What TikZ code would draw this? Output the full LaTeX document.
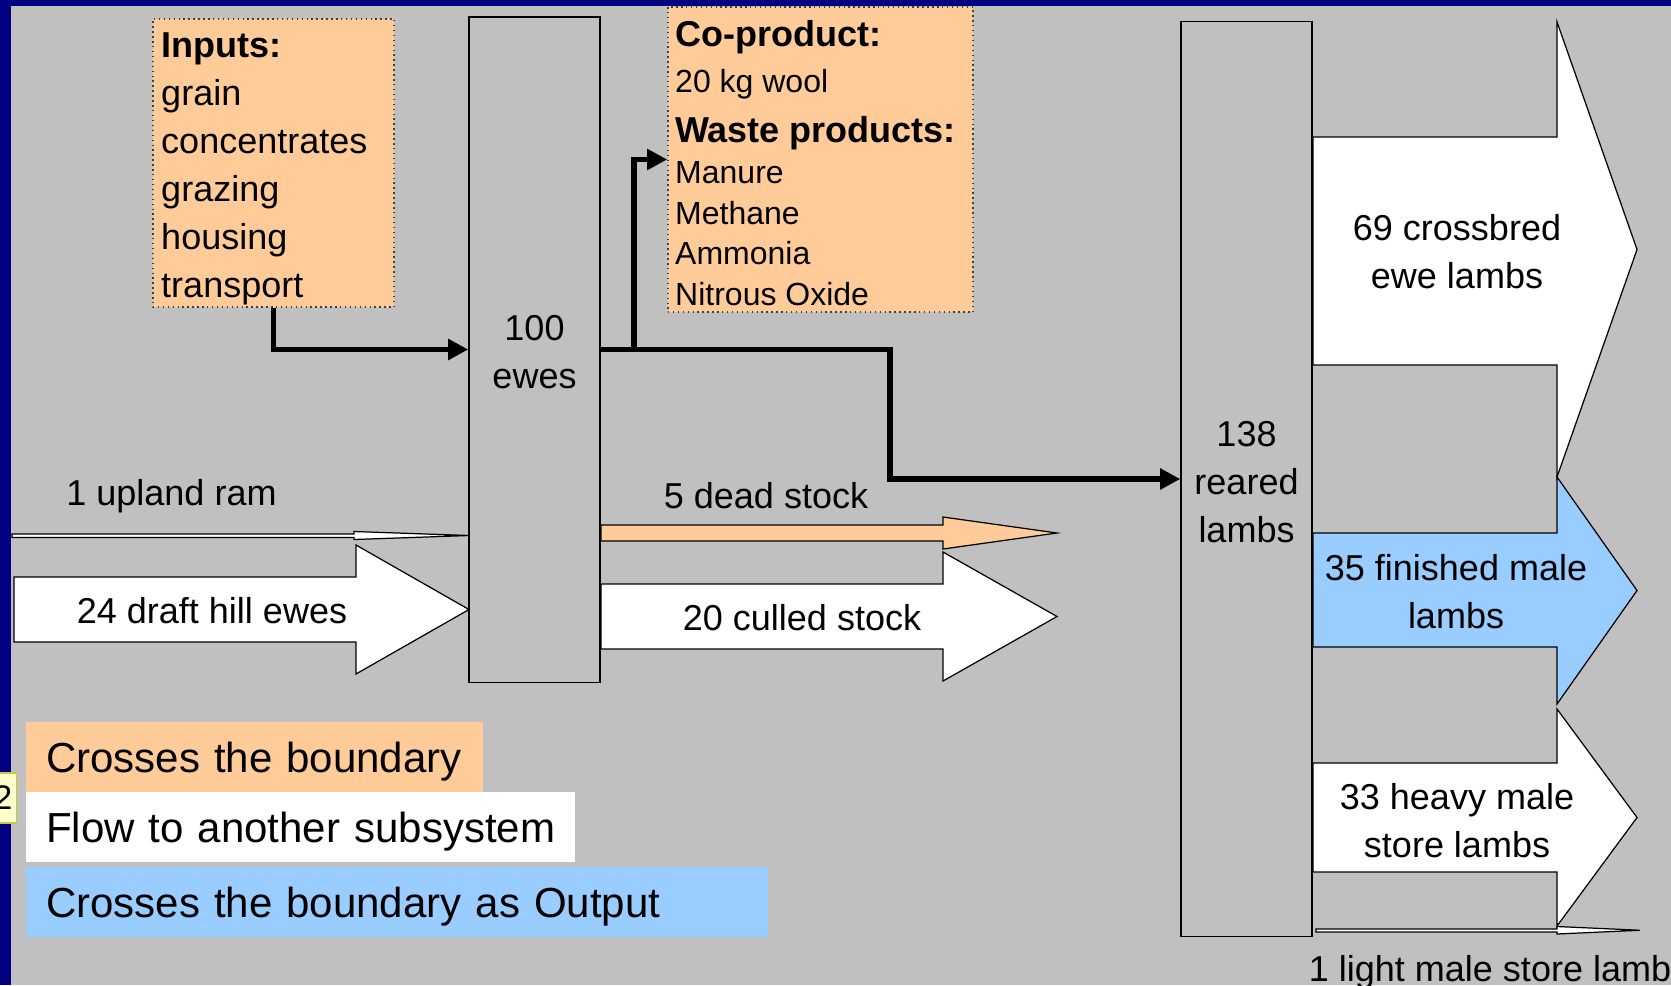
\documentclass[tikz,border=0pt]{standalone}
\usepackage{fontspec}
\setmainfont{Liberation Sans}
\usetikzlibrary{positioning, arrows.meta}
\definecolor{slidegray}{RGB}{192,192,192}
\definecolor{slidenavy}{RGB}{0,0,128}
\definecolor{peach}{RGB}{255,204,153}
\definecolor{skyblue}{RGB}{153,204,255}
\definecolor{tagyellow}{RGB}{255,255,204}
\definecolor{tagborder}{RGB}{200,200,60}

% block arrow: fill, x start, x head, x tip, body top, body bottom, head top, head bottom
\newcommand{\flowarrow}[8]{%
  \draw[blockline, fill=#1] (#2,#5) -- (#3,#5) -- (#3,#7) -- (#4,{(#7+#8)/2})
    -- (#3,#8) -- (#3,#6) -- (#2,#6) -- cycle;}

\begin{document}
\begin{tikzpicture}[
  x=0.01cm, y=-0.01cm,
  stockbox/.style={draw, line width=0.4pt, fill=slidegray},
  listbox/.style={draw=black!75, densely dotted, line width=0.4pt, fill=peach},
  listtext/.style={inner sep=0pt, outer sep=0pt, align=left},
  flowlabel/.style={align=center, inner sep=0pt, outer sep=0pt,
                    font=\fontsize{10.24}{13.66}\selectfont},
  legendbox/.style={anchor=north west, inner xsep=0.2cm, outer sep=0pt, align=left,
                    minimum height=0.70cm, text height=8.6pt, text depth=0pt,
                    font=\fontsize{11.95}{14}\selectfont},
  thickflow/.style={line width=1.7pt, -{Triangle[length=5.7pt, width=5.7pt]}},
  blockline/.style={draw=black, line width=0.35pt, line join=miter},
  tagbox/.style={fill=tagyellow, draw=tagborder, line width=0.4pt, minimum height=0.5cm,
                 inner xsep=0.04cm, font=\fontsize{9.7}{11}\selectfont}
]
  \useasboundingbox (0,0) rectangle (1671,985);
  \fill[slidegray] (0,0) rectangle (1671,985);
  \fill[slidenavy] (0,0) rectangle (1671,6);
  \fill[slidenavy] (0,0) rectangle (11,985);

  % stock boxes
  \node[stockbox, minimum width=1.31cm, minimum height=6.65cm] (ewes) at (534.5,349.5) {};
  \node[flowlabel] (ewesname) at ([yshift=-0.03cm]ewes.center) {100\\ewes};
  \node[stockbox, minimum width=1.31cm, minimum height=9.14cm] (reared) at (1246.5,479) {};
  \node[flowlabel] (rearedname) at ([yshift=-0.035cm]reared.center) {138\\reared\\lambs};

  % inputs and products
  \node[listbox, minimum width=2.41cm, minimum height=2.88cm] (inputs) at (273.5,163) {};
  \node[listtext, font=\fontsize{10.24}{13.66}\selectfont,
        below right=0.145cm and 0.09cm of inputs.north west] (inputlist)
        {\textbf{Inputs:}\\grain\\concentrates\\grazing\\housing\\transport};
  \node[listbox, minimum width=3.05cm, minimum height=3.05cm] (coproduct) at (820.5,159.5) {};
  \node[listtext, font=\fontsize{9.1}{11.6}\selectfont,
        below right=0.145cm and 0.08cm of coproduct.north west] (productlist)
        {{\fontsize{10.24}{11.6}\selectfont\bfseries Co-product:}\\[1.4pt]
         20 kg wool\\[2.6pt]
         {\fontsize{10.24}{11.6}\selectfont\bfseries Waste products:}\\
         Manure\\Methane\\Ammonia\\Nitrous Oxide};

  % thick connectors
  \coordinate (split) at (634,349.5);
  \coordinate (bend) at (890,349.5);
  \draw[thickflow] (inputs.south) |- (ewes.west);
  \draw[thickflow] (ewes.east) -- (bend) |- (reared.west);
  \draw[thickflow] (split) |- (coproduct.west);

  % flows into the ewes
  \flowarrow{white}{12}{354}{469}{534}{537.5}{531.5}{539.5}
  \flowarrow{white}{14}{356}{469}{577}{642}{545}{674}
  \node[flowlabel, anchor=base] (lblram) at (171.5,505) {1 upland ram};
  \node[flowlabel, anchor=base] (lbldraft) at (212,623) {24 draft hill ewes};

  % flows out of the ewes
  \flowarrow{peach}{601}{943}{1057}{525}{541}{517}{549}
  \flowarrow{white}{601}{943}{1057}{584}{649}{552}{681}
  \node[flowlabel, anchor=base] (lbldead) at (766,508) {5 dead stock};
  \node[flowlabel, anchor=base] (lblculled) at (802,630) {20 culled stock};

  % flows out of the lambs
  \flowarrow{white}{1313}{1557}{1637}{137}{365}{22}{477}
  \flowarrow{skyblue}{1313}{1557}{1637}{533}{647}{477}{704}
  \flowarrow{white}{1313}{1557}{1637}{763}{872}{709}{926}
  \flowarrow{white}{1316}{1557}{1640}{929}{932}{926.5}{934}
  \node[flowlabel] (lblcross) at (1457,252) {69 crossbred\\ewe lambs};
  \node[flowlabel] (lblfinished) at (1456,592) {35 finished male\\lambs};
  \node[flowlabel] (lblheavy) at (1457,821) {33 heavy male\\store lambs};
  \node[flowlabel, anchor=base] (lbllight) at (1490,981) {1 light male store lamb};

  % legend
  \node[legendbox, fill=peach, text width=4.17cm] (legcross) at (26,722) {Crosses the boundary};
  \node[legendbox, fill=white, text width=5.09cm,
        below right=0cm and 0cm of legcross.south west] (legflow) {Flow to another subsystem};
  \node[legendbox, fill=skyblue, text width=7.02cm,
        below right=0.05cm and 0cm of legflow.south west] (legoutput) {Crosses the boundary as Output};

  \node[tagbox, anchor=east] (slidetag) at (17,798) {2};
\end{tikzpicture}
\end{document}
